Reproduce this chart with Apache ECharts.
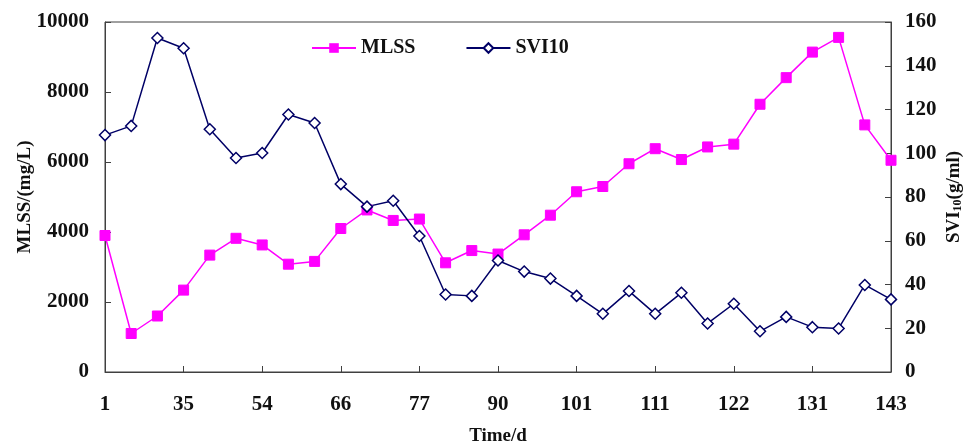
<!DOCTYPE html>
<html><head><meta charset="utf-8">
<script src="https://cdn.jsdelivr.net/npm/echarts@6/dist/echarts.min.js"></script>
<style>html,body{margin:0;padding:0;background:#fff}#c{width:968px;height:445px}</style>
</head><body><div id="c"></div>
<script>
// Day categories (only every third one is labelled in the reference; in-between days estimated)
const days = ['1','12','24','35','41','48','54','58','62','66','70','73','77','81','86','90','94','97','101','104','108','111','115','118','122','125','128','131','135','139','143'];
const mlss = [3900,1100,1600,2340,3340,3820,3630,3080,3160,4100,4630,4330,4370,3120,3470,3370,3920,4480,5150,5300,5950,6380,6070,6430,6510,7650,8410,9140,9560,7060,6050];
const svi10 = [108.3,112.5,152.7,148.0,111.0,97.8,100.1,117.7,113.8,85.9,75.6,78.3,62.2,35.4,34.8,51.0,45.9,42.7,34.8,26.6,37.0,26.6,36.2,22.2,31.2,18.6,25.2,20.5,19.9,39.8,33.2];

const font = 'Liberation Serif, Times New Roman, serif';
const axisColor = '#404040';
const chart = echarts.init(document.getElementById('c'));
chart.setOption({
  animation: false,
  backgroundColor: '#fff',
  grid: {left: 105, right: 77, top: 22, bottom: 73, show: true, borderColor: axisColor, borderWidth: 1, outerBoundsMode: 'none', containLabel: false},
  legend: {
    top: 33, left: 306, itemGap: 50, itemWidth: 44, itemHeight: 12,
    textStyle: {fontFamily: font, fontWeight: 'bold', fontSize: 20, color: '#111'},
    data: ['MLSS', 'SVI10']
  },
  xAxis: {
    type: 'category', data: days, boundaryGap: false,
    name: 'Time/d', nameLocation: 'middle', nameGap: 55, nameMoveOverlap: false,
    nameTextStyle: {fontFamily: font, fontWeight: 'bold', fontSize: 19, color: '#111'},
    axisLine: {lineStyle: {color: axisColor, width: 1}},
    axisTick: {inside: true, interval: 2, length: 6, lineStyle: {color: axisColor}},
    axisLabel: {interval: 2, margin: 22, fontFamily: font, fontWeight: 'bold', fontSize: 21, color: '#111'},
    splitLine: {show: false}
  },
  yAxis: [{
    type: 'value', min: 0, max: 10000, interval: 2000,
    name: 'MLSS/(mg/L)', nameLocation: 'middle', nameGap: 70, nameMoveOverlap: false,
    nameTextStyle: {fontFamily: font, fontWeight: 'bold', fontSize: 19, color: '#111'},
    axisLine: {show: true, lineStyle: {color: axisColor}},
    axisTick: {show: true, inside: true, length: 6, lineStyle: {color: axisColor}},
    axisLabel: {margin: 16, fontFamily: font, fontWeight: 'bold', fontSize: 21, color: '#111', formatter: v => String(v)},
    splitLine: {show: false}
  }, {
    type: 'value', min: 0, max: 160, interval: 20, position: 'right',
    name: '{a|SVI}{b|10}{a|(g/ml)}', nameLocation: 'middle', nameGap: 54, nameRotate: 90, nameMoveOverlap: false,
    nameTextStyle: {rich: {
      a: {fontFamily: font, fontWeight: 'bold', fontSize: 19, color: '#111'},
      b: {fontFamily: font, fontWeight: 'bold', fontSize: 12, color: '#111', padding: [6, 0, 0, 0]}
    }},
    axisLine: {show: true, lineStyle: {color: axisColor}},
    axisTick: {show: true, inside: true, length: 6, lineStyle: {color: axisColor}},
    axisLabel: {margin: 14, fontFamily: font, fontWeight: 'bold', fontSize: 21, color: '#111'},
    splitLine: {show: false}
  }],
  series: [{
    name: 'MLSS', type: 'line', yAxisIndex: 0, data: mlss,
    symbol: 'rect', symbolSize: 10,
    lineStyle: {color: '#FF00FF', width: 1.5},
    itemStyle: {color: '#FF00FF', borderColor: '#FF00FF'}
  }, {
    name: 'SVI10', type: 'line', yAxisIndex: 1, data: svi10,
    symbol: 'diamond', symbolSize: 11,
    lineStyle: {color: '#000066', width: 1.5},
    itemStyle: {color: '#ffffff', borderColor: '#000066', borderWidth: 1.5}
  }]
});
</script></body></html>
